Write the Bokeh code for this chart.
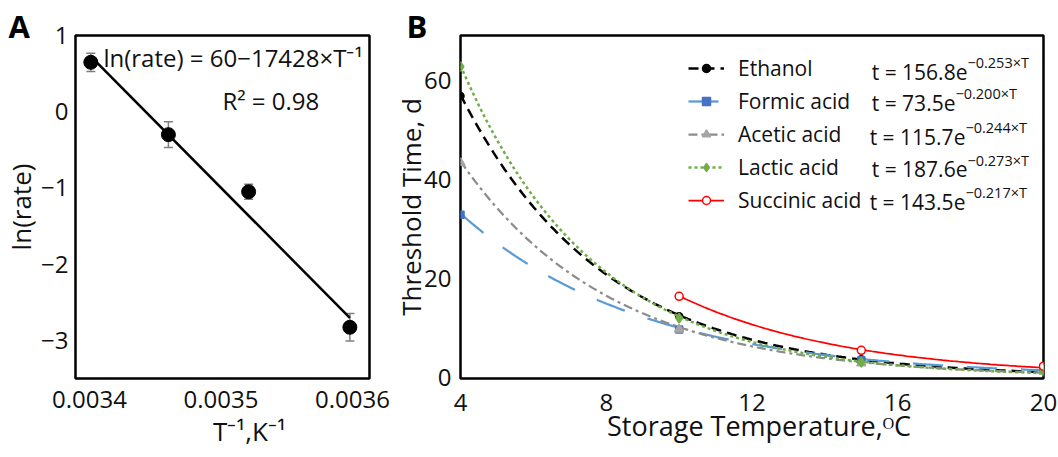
import numpy as np
from bokeh.plotting import figure
from bokeh.layouts import row
from bokeh.models import (ColumnDataSource, Whisker, TeeHead, Label, Legend, LegendItem,
                          FixedTicker, PrintfTickFormatter, CustomJSTickFormatter, Range1d)
from bokeh.embed import file_html
from bokeh.resources import INLINE

FONT = "Open Sans"
TXT = "#111111"
NBSP = "\u00a0"

# ---------------- Panel A data ----------------
inv_temp = [0.003401, 0.003460, 0.003521, 0.003598]
ln_rate = [0.65, -0.30, -1.05, -2.83]
ln_rate_err = [0.12, 0.17, 0.10, 0.18]
fit_intercept = 60
fit_slope = -17428
fit_r2 = 0.98
a_xticks = [0.0034, 0.0035, 0.0036]
a_yticks = [-3, -2, -1, 0, 1]

# ---------------- Panel B data ----------------
temps = [4, 10, 15, 20]
ethanol = [56.8, 12.3, 3.6, 1.6]
formic = [32.8, 9.6, 3.4, 1.5]
acetic = [43.3, 9.6, 2.8, 1.2]
lactic = [62.7, 11.9, 3.0, 1.2]
succinic_temps = [10, 15, 20]
succinic = [16.3, 5.4, 2.2]
series_names = ["Ethanol", "Formic acid", "Acetic acid", "Lactic acid", "Succinic acid"]
fit_a = [156.8, 73.5, 115.7, 187.6, 143.5]
fit_b = [-0.253, -0.200, -0.244, -0.273, -0.217]
b_xticks = [4, 8, 12, 16, 20]
b_yticks = [0, 20, 40, 60]

minus_fmt = CustomJSTickFormatter(code="return tick < 0 ? '\u2212' + Math.abs(tick) : String(tick);")


def style_axes(p):
    for ax in (p.xaxis[0], p.yaxis[0]):
        ax.axis_line_color = None
        ax.major_tick_line_color = None
        ax.minor_tick_line_color = None
        ax.major_tick_out = 0
        ax.major_tick_in = 0
        ax.minor_tick_out = 0
        ax.minor_tick_in = 0
        ax.major_label_text_font = FONT
        ax.major_label_text_font_size = "24px"
        ax.major_label_text_color = TXT
        ax.axis_label_text_font = FONT
        ax.axis_label_text_font_style = "normal"
        ax.axis_label_text_color = TXT
    p.xgrid.visible = False
    p.ygrid.visible = False
    p.outline_line_color = "black"
    p.outline_line_width = 2.5
    p.background_fill_color = "white"
    p.border_fill_color = "white"


def panel_title(p, text, offset):
    p.title.text = text
    p.title.text_font = FONT
    p.title.text_font_size = "31px"
    p.title.text_font_style = "bold"
    p.title.text_color = "black"
    p.title.align = "left"
    p.title.offset = offset
    p.title.standoff = -23


def add_label(p, x, y, text, size, **kw):
    p.add_layout(Label(x=x, y=y, text=text, text_font=FONT, text_font_size=size,
                       text_color=TXT, **kw))


H = 457

# ================= Panel A =================
pA = figure(width=390, height=H, output_backend="svg", toolbar_location=None,
            x_range=Range1d(0.00338935, 0.00361293), y_range=Range1d(-3.5026, 1.002),
            min_border_left=75, min_border_right=21, min_border_top=34, min_border_bottom=H - 378)
style_axes(pA)
panel_title(pA, "A", -67)
pA.xaxis.ticker = FixedTicker(ticks=a_xticks)
pA.xaxis.formatter = PrintfTickFormatter(format="%.4f")
pA.yaxis.ticker = FixedTicker(ticks=a_yticks)
pA.yaxis.formatter = minus_fmt
pA.xaxis.major_label_standoff = 12
pA.yaxis.major_label_standoff = 7
pA.xaxis.axis_label = NBSP * 8 + "T\u207b\u00b9,K\u207b\u00b9"
pA.xaxis.axis_label_text_font_size = "26px"
pA.xaxis.axis_label_standoff = 2
pA.yaxis.axis_label = "ln(rate)"
pA.yaxis.axis_label_text_font_size = "26px"
pA.yaxis.axis_label_standoff = -1

fit_x = [inv_temp[0], inv_temp[-1]]
fit_y = [fit_intercept + fit_slope * v for v in fit_x]
pA.line(fit_x, fit_y, line_color="black", line_width=2.5)

srcA = ColumnDataSource(dict(
    x=inv_temp, y=ln_rate,
    upper=[v + e for v, e in zip(ln_rate, ln_rate_err)],
    lower=[v - e for v, e in zip(ln_rate, ln_rate_err)]))
pA.add_layout(Whisker(source=srcA, base="x", upper="upper", lower="lower",
                      line_color="#7f7f7f", line_width=1.5,
                      upper_head=TeeHead(size=9, line_color="#7f7f7f", line_width=1.5),
                      lower_head=TeeHead(size=9, line_color="#7f7f7f", line_width=1.5)))
pA.scatter("x", "y", source=srcA, size=14, fill_color="black", line_color="black")

add_label(pA, 0.0034106, 0.712, "ln(rate) = %d\u2212%d\u00d7T\u207b\u00b9" % (fit_intercept, -fit_slope),
          "24px", text_baseline="middle")
add_label(pA, 0.0035011, 0.149, "R\u00b2 = %.2f" % fit_r2, "24px", text_baseline="middle")

# ================= Panel B =================
pB = figure(width=668, height=H, output_backend="svg", toolbar_location=None,
            x_range=Range1d(3.999, 20.001), y_range=Range1d(-0.3, 69.0),
            min_border_left=70, min_border_right=15, min_border_top=35, min_border_bottom=H - 380)
style_axes(pB)
panel_title(pB, "B", -54)
pB.xaxis.ticker = FixedTicker(ticks=b_xticks)
pB.yaxis.ticker = FixedTicker(ticks=b_yticks)
pB.xaxis.major_label_standoff = 15
pB.yaxis.major_label_standoff = 9
pB.xaxis.axis_label = NBSP * 2 + "Storage Temperature,\u1d3cC"
pB.xaxis.axis_label_text_font_size = "27px"
pB.xaxis.axis_label_standoff = -7
pB.yaxis.axis_label = "Threshold Time, d"
pB.yaxis.axis_label_text_font_size = "26px"
pB.yaxis.axis_label_standoff = -8

series_vals = [ethanol, formic, acetic, lactic, succinic]
series_x = [temps, temps, temps, temps, succinic_temps]
line_colors = ["black", "#5B9BD5", "#8C8C8C", "#70AD47", "#FF0000"]
line_widths = [2.5, 2.25, 2.25, 2.5, 1.75]
line_dashes = ["10 6", "30 24", "9 4 3 4", "3 3", "solid"]
markers = ["circle", "square", "triangle", "diamond", "circle"]
mk_fill = ["black", "#4472C4", "#A5A5A5", "#70AD47", "white"]
mk_line = ["black", "#4472C4", "#A5A5A5", "#70AD47", "#FF0000"]
mk_size = [7, 7, 9, 10, 8]

items = []
for i, name in enumerate(series_names):
    tgrid = np.linspace(series_x[i][0], 20, 160)
    curve = fit_a[i] * np.exp(fit_b[i] * tgrid)
    rl = pB.line(tgrid, curve, line_color=line_colors[i], line_width=line_widths[i],
                 line_dash=line_dashes[i])
    rs = pB.scatter(series_x[i], series_vals[i], marker=markers[i], size=mk_size[i],
                    fill_color=mk_fill[i], line_color=mk_line[i], line_width=1.5)
    items.append(LegendItem(label=name, renderers=[rl, rs]))

legend = Legend(items=items, location=(228, 164), padding=0, margin=0,
                glyph_width=36, glyph_height=20, label_height=20, label_standoff=14,
                spacing=5, border_line_color=None, background_fill_alpha=0,
                label_text_font=FONT, label_text_font_size="21px", label_text_color=TXT)
pB.add_layout(legend)

sup_T = [17.913, 17.584, 17.858, 17.913, 17.858]
row_d = [61.61, 55.39, 48.57, 41.94, 35.32]
for i in range(5):
    add_label(pB, sup_T[i], row_d[i], "t = %.1fe" % fit_a[i], "21px",
              text_align="right", text_baseline="middle")
    add_label(pB, sup_T[i], row_d[i] + 1.9, "\u2212%.3f\u00d7T" % abs(fit_b[i]), "14.5px",
              text_align="left", text_baseline="middle")

layout = row(pA, pB)
open("out.html", "w").write(file_html(layout, INLINE))
